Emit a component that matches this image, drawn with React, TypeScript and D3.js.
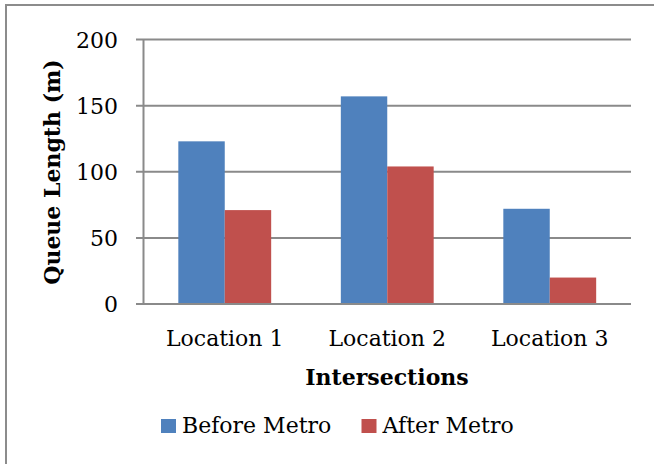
import React from "react";
import * as d3 from "d3";

const categories = ["Location 1", "Location 2", "Location 3"];
const seriesNames = ["Before Metro", "After Metro"];
const beforeMetro = [123, 157, 72];
const afterMetro = [71, 104, 20];
const yTicks = [0, 50, 100, 150, 200];
const colors = ["#4F81BD", "#C0504D"];

const W = 654;
const H = 464;
const plot = { left: 143.5, right: 631, top: 39.5, bottom: 304 };
const font = "'DejaVu Serif', serif";
const fs = 22;

export default function App() {
  const x = d3
    .scaleBand<string>()
    .domain(categories)
    .range([plot.left, plot.right])
    .paddingInner(0.4286)
    .paddingOuter(0.2143);
  const inner = d3
    .scaleBand<string>()
    .domain(seriesNames)
    .range([0, x.bandwidth()]);
  const y = d3.scaleLinear().domain([0, 200]).range([plot.bottom, plot.top]);
  const series = [beforeMetro, afterMetro];

  return (
    <svg
      width={W}
      height={H}
      style={{ position: "absolute", left: 0, top: 0 }}
      fontFamily={font}
    >
      <rect x={0} y={0} width={W} height={H} fill="#fff" />
      {/* chart frame */}
      <path d={`M6,${H} V5 H${W}`} fill="none" stroke="#8c8c8c" strokeWidth={2} />

      {/* gridlines and y tick labels */}
      {yTicks.map((t) => (
        <g key={t}>
          <line
            x1={136}
            x2={plot.right}
            y1={y(t)}
            y2={y(t)}
            stroke="#8a8a8a"
            strokeWidth={2}
          />
          <text x={118} y={y(t) + 8} textAnchor="end" fontSize={fs} fill="#000">
            {t}
          </text>
        </g>
      ))}
      <line x1={plot.left} x2={plot.left} y1={plot.top} y2={plot.bottom} stroke="#8a8a8a" strokeWidth={2} />

      {/* bars and category labels */}
      {categories.map((c, i) => (
        <g key={c}>
          {seriesNames.map((s, j) => (
            <rect
              key={s}
              x={(x(c) as number) + (inner(s) as number)}
              y={y(series[j][i])}
              width={inner.bandwidth()}
              height={y(0) - y(series[j][i])}
              fill={colors[j]}
            />
          ))}
          <text
            x={(x(c) as number) + x.bandwidth() / 2}
            y={346}
            textAnchor="middle"
            fontSize={fs}
          >
            {c}
          </text>
        </g>
      ))}
      <line x1={plot.left - 1} x2={plot.right} y1={y(0)} y2={y(0)} stroke="#8a8a8a" strokeWidth={2} />

      {/* axis titles */}
      <text x={387} y={385} textAnchor="middle" fontSize={fs} fontWeight="bold">
        Intersections
      </text>
      <text
        transform={`translate(60,172) rotate(-90)`}
        textAnchor="middle"
        fontSize={fs}
        fontWeight="bold"
      >
        Queue Length (m)
      </text>

      {/* legend */}
      {seriesNames.map((s, j) => {
        const lx = [161, 361.5][j];
        return (
          <g key={s}>
            <rect x={lx} y={419} width={15} height={14} fill={colors[j]} />
            <text x={lx + 21} y={433} fontSize={fs}>
              {s}
            </text>
          </g>
        );
      })}
    </svg>
  );
}
